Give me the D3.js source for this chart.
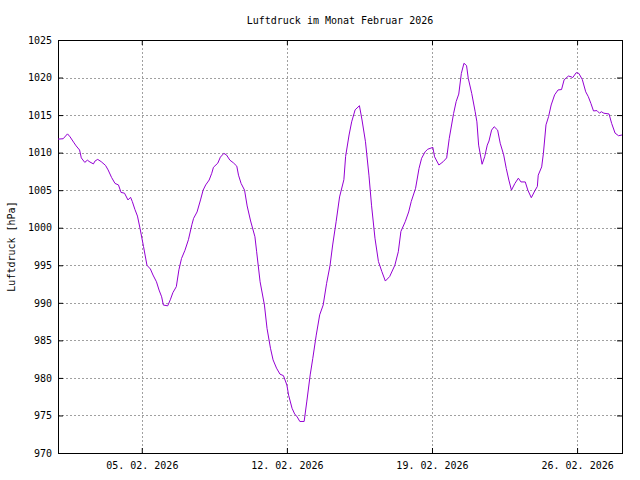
<!DOCTYPE html>
<html>
<head>
<meta charset="utf-8">
<script src="https://cdn.jsdelivr.net/npm/d3@7"></script>
<style>
  html, body { margin: 0; padding: 0; background: #fff; }
  text { font-family: "DejaVu Sans Mono", "Liberation Mono", monospace; font-size: 10px; fill: #000; }
</style>
</head>
<body>
<svg id="chart" width="640" height="480"></svg>
<script>
// ---- data (hours since start, pressure in hPa) ----
const title = "Luftdruck im Monat Februar 2026";
const yLabel = "Luftdruck [hPa]";
const startDate = "2026-01-31T23:00:00Z";
const endHour = 653;
const hours = [
  0, 6, 11, 14, 18, 21, 25, 27, 31, 34, 37, 41, 43, 46, 50, 55, 58, 62, 66, 70,
  73, 77, 81, 84, 86, 89, 92, 95, 99, 103, 107, 110, 114, 117, 120, 122, 127, 130, 133, 137,
  140, 143, 147, 151, 155, 157, 161, 165, 168, 171, 175, 178, 180, 185, 188, 192, 195, 199, 203, 207,
  209, 212, 216, 219, 223, 228, 230, 234, 239, 242, 246, 249, 253, 257, 261, 265, 267, 271, 274, 277,
  280, 285, 288, 292, 295, 299, 303, 307, 311, 315, 318, 322, 326, 331, 333, 337, 340, 344, 349, 352,
  356, 360, 363, 367, 371, 375, 379, 384, 390, 394, 397, 402, 406, 409, 414, 418, 421, 425, 428, 434,
  436, 441, 446, 450, 453, 458, 461, 464, 467, 470, 473, 475, 479, 483, 485, 487, 491, 494, 497, 499,
  502, 505, 509, 512, 516, 519, 522, 525, 529, 533, 536, 541, 544, 548, 552, 555, 556, 560, 562, 565,
  568, 571, 575, 579, 583, 586, 591, 594, 596, 600, 603, 607, 611, 614, 617, 620, 624, 627, 629, 632,
  638, 641, 645, 649, 653
];
const pressure = [
  1011.8, 1011.85, 1012.5, 1012.1, 1011.4, 1010.9, 1010.35, 1009.3, 1008.7, 1009.0, 1008.75, 1008.5, 1008.9, 1009.1, 1008.8, 1008.3, 1007.7, 1006.7, 1005.9, 1005.7,
  1004.7, 1004.6, 1003.7, 1004.05, 1003.5, 1002.45, 1001.55, 999.9, 997.5, 995.0, 994.5, 993.7, 992.8, 991.7, 990.8, 989.7, 989.6, 990.4, 991.35, 992.15,
  994.4, 995.9, 997.0, 998.4, 1000.4, 1001.25, 1002.1, 1003.7, 1005.0, 1005.7, 1006.35, 1007.25, 1008.05, 1008.6, 1009.4, 1009.9, 1009.7, 1009.0, 1008.65, 1008.2,
  1007.0, 1005.9, 1005.0, 1002.9, 1000.9, 998.8, 996.8, 992.8, 989.7, 986.6, 983.95, 982.4, 981.3, 980.5, 980.3, 979.05, 977.7, 975.95, 975.2, 974.8,
  974.2, 974.2, 976.8, 980.4, 982.6, 985.7, 988.4, 989.7, 992.6, 995.0, 997.7, 1000.8, 1004.1, 1006.4, 1009.5, 1012.35, 1014.1, 1015.7, 1016.25, 1014.35,
  1011.45, 1007.0, 1003.0, 998.6, 995.5, 994.15, 992.9, 993.5, 995.0, 996.8, 999.5, 1000.8, 1002.1, 1003.5, 1005.25, 1007.9, 1009.25, 1010.1, 1010.45, 1010.7,
  1009.45, 1008.35, 1008.8, 1009.3, 1011.9, 1015.2, 1016.8, 1017.8, 1020.55, 1021.9, 1021.6, 1019.9, 1017.9, 1015.45, 1014.1, 1011.0, 1008.45, 1009.45, 1011.0, 1011.55,
  1013.0, 1013.45, 1013.0, 1011.25, 1009.7, 1007.9, 1006.35, 1005.0, 1005.9, 1006.6, 1006.1, 1006.1, 1005.0, 1004.0, 1004.9, 1005.5, 1007.0, 1008.1, 1009.9, 1013.7,
  1014.8, 1016.35, 1017.7, 1018.35, 1018.4, 1019.7, 1020.2, 1020.1, 1020.0, 1020.65, 1020.55, 1019.75, 1018.1, 1017.45, 1016.55, 1015.55, 1015.6, 1015.25, 1015.45, 1015.25,
  1015.15, 1013.9, 1012.6, 1012.25, 1012.35
];
const yTicks = [970, 975, 980, 985, 990, 995, 1000, 1005, 1010, 1015, 1020, 1025];
const xTickDates = ["2026-02-05", "2026-02-12", "2026-02-19", "2026-02-26"];

// ---- layout ----
const W = 640, H = 480;
const m = { left: 58, right: 18, top: 40, bottom: 27 };
const iw = W - m.left - m.right, ih = H - m.top - m.bottom;

const t0 = new Date(startDate);
const toDate = h => new Date(t0.getTime() + h * 3600 * 1000);
const data = hours.map((h, i) => ({ t: toDate(h), v: pressure[i] }));

const x = d3.scaleUtc().domain([t0, toDate(endHour)]).range([0, iw]);
const y = d3.scaleLinear().domain([970, 1025]).range([ih, 0]);
const xTicks = xTickDates.map(s => new Date(s + "T00:00:00Z"));
const fmt = d3.utcFormat("%d. %m. %Y");

const svg = d3.select("#chart");
svg.append("text").attr("x", m.left + iw / 2).attr("y", 24)
  .attr("text-anchor", "middle").text(title);

const g = svg.append("g").attr("transform", `translate(${m.left},${m.top})`);

// grid
const gridCol = "#a0a0a0";
g.append("g").selectAll("line").data(yTicks.filter(v => v > 970 && v < 1025)).join("line")
  .attr("x1", 0).attr("x2", iw)
  .attr("y1", d => Math.round(y(d)) + 0.5).attr("y2", d => Math.round(y(d)) + 0.5)
  .attr("stroke", gridCol).attr("stroke-width", 1).attr("stroke-dasharray", "2,2");
g.append("g").selectAll("line").data(xTicks).join("line")
  .attr("x1", d => Math.round(x(d)) + 0.5).attr("x2", d => Math.round(x(d)) + 0.5)
  .attr("y1", 0).attr("y2", ih)
  .attr("stroke", gridCol).attr("stroke-width", 1).attr("stroke-dasharray", "2,2");

// axes
const styleAxis = sel => { sel.select(".domain").remove(); sel.selectAll("line").attr("stroke", "#000"); };
g.append("g").call(d3.axisLeft(y).tickValues(yTicks).tickFormat(d3.format("d")).tickSizeInner(-5).tickSizeOuter(0).tickPadding(6))
  .call(styleAxis).selectAll("text").style("font-family", "DejaVu Sans Mono").style("font-size", "10px");
g.append("g").attr("transform", `translate(${iw},0)`)
  .call(d3.axisRight(y).tickValues(yTicks).tickFormat("").tickSizeInner(-5).tickSizeOuter(0))
  .call(styleAxis);
g.append("g").attr("transform", `translate(0,${ih})`)
  .call(d3.axisBottom(x).tickValues(xTicks).tickFormat(fmt).tickSizeInner(-5).tickSizeOuter(0).tickPadding(9))
  .call(styleAxis).selectAll("text").style("font-family", "DejaVu Sans Mono").style("font-size", "10px");
g.append("g")
  .call(d3.axisTop(x).tickValues(xTicks).tickFormat("").tickSizeInner(-5).tickSizeOuter(0))
  .call(styleAxis);

// border
g.append("rect").attr("x", 0.5).attr("y", 0.5).attr("width", iw).attr("height", ih)
  .attr("fill", "none").attr("stroke", "#000").attr("stroke-width", 1);

// line
g.append("path").datum(data)
  .attr("fill", "none").attr("stroke", "#9400d3").attr("stroke-width", 1)
  .attr("d", d3.line().x(d => x(d.t)).y(d => y(d.v)));

// y label
svg.append("text").attr("transform", `translate(15,${m.top + ih / 2}) rotate(-90)`)
  .attr("text-anchor", "middle").text(yLabel);
</script>
</body>
</html>
